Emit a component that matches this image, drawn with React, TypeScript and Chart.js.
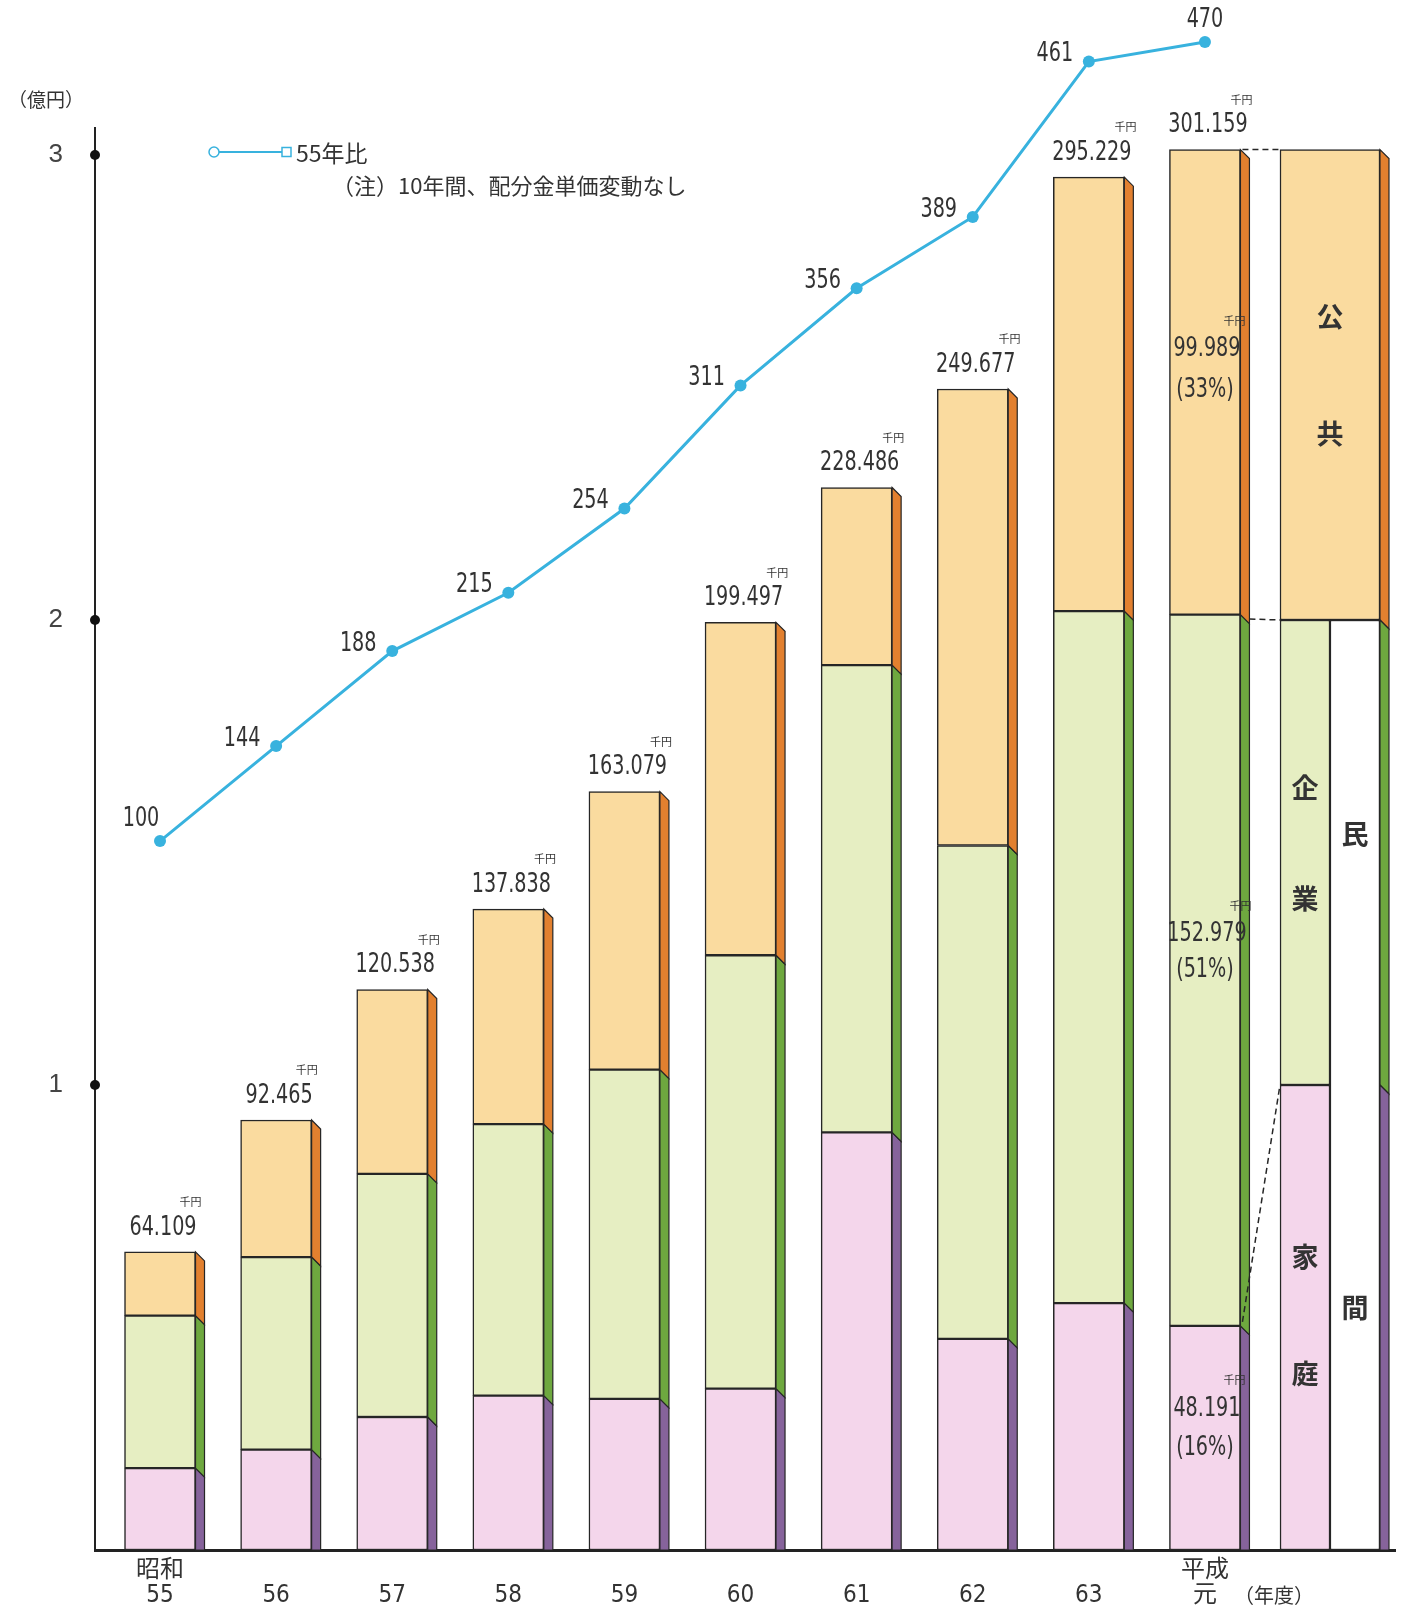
import React, { useEffect, useRef } from "react";
import { Chart, registerables } from "chart.js";

Chart.register(...registerables);

// ---- data (千円) ----
const categories: string[][] = [
  ["昭和", "55"], ["", "56"], ["", "57"], ["", "58"], ["", "59"],
  ["", "60"], ["", "61"], ["", "62"], ["", "63"], ["平成", "元"],
];
const household = [17600, 21600, 28600, 33200, 32500, 34700, 89800, 45400, 53100, 48191];
const corporate = [32800, 41400, 52300, 58400, 70800, 93200, 100500, 106100, 148800, 152979];
const publicSector = [13709, 29465, 39638, 46238, 59779, 71597, 38186, 98177, 93329, 99989];
const totalLabels = ["64.109", "92.465", "120.538", "137.838", "163.079", "199.497", "228.486", "249.677", "295.229", "301.159"];
const indexVs55 = [100, 144, 188, 215, 254, 311, 356, 389, 461, 470];
const lastPublicLabel = ["99.989", "(33%)"];
const lastCorporateLabel = ["152.979", "(51%)"];
const lastHouseholdLabel = ["48.191", "(16%)"];

// schematic breakdown bar (千円 on the same axis)
const summaryHousehold = 100000;
const summaryCorporate = 100000;
const summaryPrivate = 200000;
const summaryPublic = [200000, 301159];
const summaryTexts = { public: "公共", corporate: "企業", household: "家庭", private: "民間" };

const yTickValues = [100000, 200000, 300000];
const yTickLabels = ["1", "2", "3"];

// ---- styles ----
const NUM_FONT = "'Liberation Sans Narrow','DejaVu Sans Condensed','Noto Sans CJK JP',sans-serif";
const JP_FONT = "'Noto Sans CJK JP','Noto Sans CJK SC',sans-serif";
const C = {
  pubFront: "#fadb9f",
  pubSide: "#e2802f",
  corpFront: "#e6eec2",
  corpSide: "#6ea83f",
  houseFront: "#f4d6eb",
  houseSide: "#86639b",
  edge: "#262626",
  line: "#38b2de",
  text: "#333333",
};
const DEPTH = 9;
const SUM_X = 10.077;
const SUM_HALF = 0.215;
const SQUEEZE = 0.82;

function drawSide(ctx: CanvasRenderingContext2D, r: number, yTop: number, yBot: number, base: number, color: string) {
  const botD = yBot >= base - 0.5 ? 0 : DEPTH;
  ctx.beginPath();
  ctx.moveTo(r, yTop);
  ctx.lineTo(r + DEPTH, yTop + DEPTH);
  ctx.lineTo(r + DEPTH, yBot + botD);
  ctx.lineTo(r, yBot);
  ctx.closePath();
  ctx.fillStyle = color;
  ctx.fill();
  ctx.lineWidth = 1.2;
  ctx.strokeStyle = C.edge;
  ctx.stroke();
}

function numWidth(ctx: CanvasRenderingContext2D, t: string, size: number) {
  ctx.font = `${size}px ${NUM_FONT}`;
  return ctx.measureText(t).width * SQUEEZE;
}

function numText(ctx: CanvasRenderingContext2D, t: string, x: number, y: number, size: number) {
  ctx.save();
  ctx.font = `${size}px ${NUM_FONT}`;
  ctx.textAlign = "center";
  ctx.textBaseline = "middle";
  ctx.fillStyle = C.text;
  ctx.translate(x, y);
  ctx.scale(SQUEEZE, 1);
  ctx.fillText(t, 0, 0);
  ctx.restore();
}

function jpText(ctx: CanvasRenderingContext2D, t: string, x: number, y: number, size: number, align: CanvasTextAlign = "center", weight = "normal") {
  ctx.font = `${weight} ${size}px ${JP_FONT}`;
  ctx.textAlign = align;
  ctx.textBaseline = "middle";
  ctx.fillStyle = C.text;
  ctx.fillText(t, x, y);
}

const decoPlugin = {
  id: "deco",
  afterDatasetsDraw(chart: any) {
    const ctx: CanvasRenderingContext2D = chart.ctx;
    const yS = chart.scales.y;
    const base = yS.getPixelForValue(0);
    ctx.save();

    // side faces of main bars
    const sideColors = [C.houseSide, C.corpSide, C.pubSide];
    for (let d = 0; d < 3; d++) {
      chart.getDatasetMeta(d).data.forEach((el: any) => {
        const p = el.getProps(["x", "y", "base", "width"], true);
        drawSide(ctx, p.x + p.width / 2, p.y, p.base, base, sideColors[d]);
      });
    }

    // side faces of breakdown bar
    const sH = chart.getDatasetMeta(3).data[0].getProps(["x", "y", "base", "width"], true);
    const sC = chart.getDatasetMeta(4).data[0].getProps(["x", "y", "base", "width"], true);
    const sPr = chart.getDatasetMeta(5).data[0].getProps(["x", "y", "base", "width"], true);
    const sP = chart.getDatasetMeta(6).data[0].getProps(["x", "y", "base", "width"], true);
    const sr = sP.x + sP.width / 2;
    drawSide(ctx, sr, sP.y, sP.base, base, C.pubSide);
    drawSide(ctx, sr, sC.y, sC.base, base, C.corpSide);
    drawSide(ctx, sr, sH.y, sH.base, base, C.houseSide);

    // total labels
    chart.getDatasetMeta(2).data.forEach((el: any, i: number) => {
      const p = el.getProps(["x", "y"], true);
      const t = totalLabels[i];
      const w = numWidth(ctx, t, 26);
      numText(ctx, t, p.x + 3, p.y - 24, 26);
      jpText(ctx, "千円", p.x + 3 + w / 2 + 5, p.y - 50, 11, "right");
    });

    // last-year segment labels
    const lastIdx = 9;
    const segs = [
      { el: chart.getDatasetMeta(2).data[lastIdx], lab: lastPublicLabel, f: 0.43, gap: 41 },
      { el: chart.getDatasetMeta(1).data[lastIdx], lab: lastCorporateLabel, f: 0.45, gap: 36 },
      { el: chart.getDatasetMeta(0).data[lastIdx], lab: lastHouseholdLabel, f: 0.37, gap: 39 },
    ];
    segs.forEach((s) => {
      const p = s.el.getProps(["x", "y", "base"], true);
      const y1 = p.y + (p.base - p.y) * s.f;
      const w = numWidth(ctx, s.lab[0], 26);
      numText(ctx, s.lab[0], p.x + 2, y1, 26);
      numText(ctx, s.lab[1], p.x, y1 + s.gap, 26);
      jpText(ctx, "千円", p.x + 2 + w / 2 + 5, y1 - 29, 11, "right");
    });

    // dashed connectors
    const lp = chart.getDatasetMeta(2).data[lastIdx].getProps(["x", "y", "width"], true);
    const lc = chart.getDatasetMeta(1).data[lastIdx].getProps(["x", "y", "width"], true);
    const lh = chart.getDatasetMeta(0).data[lastIdx].getProps(["x", "y", "width"], true);
    const lr = lp.x + lp.width / 2;
    const sl = sP.x - sP.width / 2;
    ctx.setLineDash([6, 4]);
    ctx.strokeStyle = C.edge;
    ctx.lineWidth = 1.5;
    ctx.beginPath();
    ctx.moveTo(lr + 2, lp.y);
    ctx.lineTo(sl, sP.y);
    ctx.moveTo(lr + DEPTH, lc.y + DEPTH / 2);
    ctx.lineTo(sl, sC.y);
    ctx.moveTo(lr + 2, lh.y - 4);
    ctx.lineTo(sl, sH.y);
    ctx.stroke();
    ctx.setLineDash([]);

    // breakdown bar vertical texts
    const vert = (t: string, p: any, f1: number, f2: number) => {
      const h = p.base - p.y;
      jpText(ctx, t[0], p.x, p.y + h * f1, 27, "center", "bold");
      jpText(ctx, t[1], p.x, p.y + h * f2, 27, "center", "bold");
    };
    vert(summaryTexts.public, sP, 0.355, 0.605);
    vert(summaryTexts.corporate, sC, 0.36, 0.6);
    vert(summaryTexts.household, sH, 0.37, 0.62);
    vert(summaryTexts.private, sPr, 0.23, 0.74);

    // line labels
    const lm = chart.getDatasetMeta(7).data;
    lm.forEach((el: any, i: number) => {
      const p = el.getProps(["x", "y"], true);
      let dx = -34, dy = -7;
      if (i === 0) { dx = -19; dy = -22; }
      if (i === lm.length - 1) { dx = 0; dy = -22; }
      numText(ctx, String(indexVs55[i]), p.x + dx, p.y + dy, 26);
    });

    ctx.restore();
  },
  afterDraw(chart: any) {
    const ctx: CanvasRenderingContext2D = chart.ctx;
    const yS = chart.scales.y;
    const left = chart.chartArea.left;
    ctx.save();
    // y axis line (starts just above the top tick)
    ctx.strokeStyle = "#222";
    ctx.lineWidth = 2;
    ctx.beginPath();
    ctx.moveTo(left, yS.getPixelForValue(306000));
    ctx.lineTo(left, yS.getPixelForValue(0));
    ctx.stroke();
    // tick dots
    ctx.fillStyle = "#111";
    yTickValues.forEach((v) => {
      ctx.beginPath();
      ctx.arc(left, yS.getPixelForValue(v), 5, 0, Math.PI * 2);
      ctx.fill();
    });
    // unit label
    jpText(ctx, "（億円）", 46, 100, 19);
    // x unit
    jpText(ctx, "（年度）", 1274, 1595, 20);
    // legend
    ctx.strokeStyle = C.line;
    ctx.lineWidth = 2;
    ctx.beginPath();
    ctx.moveTo(219, 152);
    ctx.lineTo(282, 152);
    ctx.stroke();
    ctx.fillStyle = "#fff";
    ctx.lineWidth = 1.5;
    ctx.beginPath();
    ctx.arc(214, 152, 5, 0, Math.PI * 2);
    ctx.fill();
    ctx.stroke();
    ctx.fillRect(282, 147.5, 9, 9);
    ctx.strokeRect(282, 147.5, 9, 9);
    jpText(ctx, "55年比", 296, 153, 23, "left");
    jpText(ctx, "（注）10年間、配分金単価変動なし", 332, 186, 22, "left");
    ctx.restore();
  },
};

export default function App() {
  const ref = useRef<HTMLCanvasElement | null>(null);
  useEffect(() => {
    if (!ref.current) return;
    const mainBar = (label: string, data: number[], color: string) => ({
      type: "bar" as const,
      label,
      data: data.map((v, i) => ({ x: i, y: v })),
      backgroundColor: color,
      borderColor: C.edge,
      borderWidth: 1.5,
      borderSkipped: false,
      stack: "main",
      grouped: false,
      barThickness: 71,
      xAxisID: "x",
      yAxisID: "y",
      order: 2,
    });
    const sumBar = (label: string, x: number, y: any, color: string, thick: number) => ({
      type: "bar" as const,
      label,
      data: [{ x, y }],
      backgroundColor: color,
      borderColor: C.edge,
      borderWidth: 1.5,
      borderSkipped: false,
      stack: "sum",
      grouped: false,
      barThickness: thick,
      xAxisID: "x",
      yAxisID: "y",
      order: 2,
    });
    const chart = new Chart(ref.current, {
      data: {
        datasets: [
          mainBar("家庭", household, C.houseFront),
          mainBar("企業", corporate, C.corpFront),
          mainBar("公共", publicSector, C.pubFront),
          sumBar("家庭", SUM_X - SUM_HALF, summaryHousehold, C.houseFront, 50),
          sumBar("企業", SUM_X - SUM_HALF, summaryCorporate, C.corpFront, 50),
          sumBar("民間", SUM_X + SUM_HALF, summaryPrivate, "#ffffff", 50),
          sumBar("公共", SUM_X, summaryPublic, C.pubFront, 100),
          {
            type: "line" as const,
            label: "55年比",
            data: indexVs55.map((v, i) => ({ x: i, y: v })),
            borderColor: C.line,
            backgroundColor: C.line,
            borderWidth: 3,
            pointRadius: 6,
            pointBorderWidth: 0,
            pointBackgroundColor: C.line,
            xAxisID: "x",
            yAxisID: "y2",
            clip: false as any,
            order: 1,
          },
        ] as any,
      },
      options: {
        animation: false,
        responsive: false,
        devicePixelRatio: 1,
        layout: { padding: { top: 22, right: 8, left: 0, bottom: 0 } },
        plugins: { legend: { display: false }, tooltip: { enabled: false } },
        scales: {
          x: {
            type: "linear",
            offset: false,
            min: -0.56,
            max: 10.637,
            grid: { display: false },
            border: { display: true, color: "#222", width: 3 },
            ticks: {
              autoSkip: false,
              maxRotation: 0,
              padding: 0,
              color: C.text,
              font: { family: NUM_FONT, size: 24, lineHeight: 1.05 },
              callback: (v: any) => categories[v] ?? "",
            },
            afterBuildTicks: (a: any) => {
              a.ticks = categories.map((_, i) => ({ value: i }));
            },
            afterFit: (a: any) => {
              a.height = 65;
            },
          },
          y: {
            type: "linear",
            stacked: true,
            min: 0,
            max: 328600,
            grid: { display: false },
            border: { display: false },
            ticks: {
              padding: 24,
              color: "#444",
              font: { family: "'Liberation Sans',sans-serif", size: 26 },
              callback: (v: any) => {
                const k = yTickValues.indexOf(v);
                return k >= 0 ? yTickLabels[k] : "";
              },
            },
            afterBuildTicks: (a: any) => {
              a.ticks = yTickValues.map((value) => ({ value }));
            },
            afterFit: (a: any) => {
              a.width = 95;
              a.paddingTop = 0;
              a.paddingBottom = 0;
            },
          },
          y2: { type: "linear", display: false, min: -228.3, max: 479.3 },
        },
      } as any,
      plugins: [decoPlugin],
    });
    return () => chart.destroy();
  }, []);
  return (
    <div style={{ position: "absolute", left: 0, top: 0, width: 1403, height: 1615, background: "#fff" }}>
      <canvas ref={ref} width={1403} height={1615} style={{ width: 1403, height: 1615, display: "block" }} />
    </div>
  );
}
